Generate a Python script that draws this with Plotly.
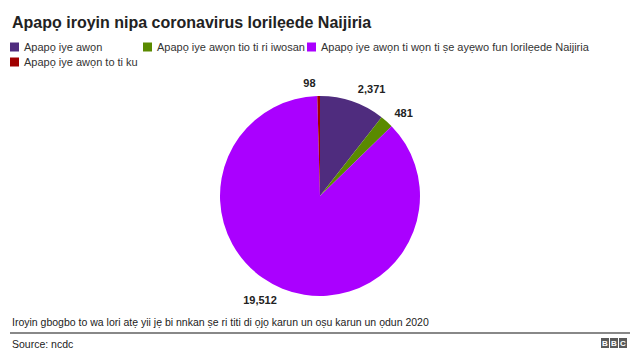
import plotly.graph_objects as go

labels = [
    "Apapọ iye awọn",
    "Apapọ iye awọn tio ti ri iwosan",
    "Apapọ iye awọn ti wọn ti ṣe ayẹwo fun lorilẹede Naijiria",
    "Apapọ iye awọn to ti ku",
]
values = [2371, 481, 19512, 98]
colors = ["#4f2c7e", "#5a8a00", "#aa00ff", "#a00000"]

title = "Apapọ iroyin nipa coronavirus lorilẹede Naijiria"
note = "Iroyin gbogbo to wa lori atẹ yii jẹ bi nnkan ṣe ri titi di ọjọ karun un oṣu karun un ọdun 2020"
source = "Source: ncdc"

# page has an 8px body margin; figure sized to fit the 640x360 window
OFF = 8
W, H = 640 - OFF, 360 - OFF
FONT = "Liberation Sans, Arial, sans-serif"


def px(x):
    return (x - OFF) / W


def py(y):
    return 1 - (y - OFF) / H


# visible pie
fig = go.Figure(go.Pie(
    labels=labels,
    values=values,
    marker=dict(colors=colors, line=dict(width=0)),
    sort=False,
    direction="clockwise",
    rotation=0,
    textinfo="none",
    domain=dict(x=[px(220), px(420)], y=[py(296), py(96)]),
    showlegend=False,
    hoverinfo="label+value",
))

# transparent, slightly larger pie carrying the outside value labels
G = 7
fig.add_trace(go.Pie(
    labels=labels,
    values=values,
    marker=dict(colors=["rgba(0,0,0,0)"] * len(values), line=dict(width=0)),
    sort=False,
    direction="clockwise",
    rotation=0,
    textinfo="value",
    texttemplate="<b>%{value:,}</b>",
    textposition="outside",
    outsidetextfont=dict(size=11, color="#222222", family=FONT),
    domain=dict(x=[px(220 - G), px(420 + G)], y=[py(296 + G), py(96 - G)]),
    showlegend=False,
    hoverinfo="skip",
))

shapes = []
annotations = []

# title
annotations.append(dict(x=px(10), y=py(22), xref="paper", yref="paper",
                        text="<b>" + title + "</b>", showarrow=False,
                        xanchor="left", yanchor="middle",
                        font=dict(size=16, color="#222222", family=FONT)))

# custom legend (layout positions)
leg_pos = [(10, 47), (143, 47), (307, 47), (10, 62)]
for (lx, ly), lab, col in zip(leg_pos, labels, colors):
    shapes.append(dict(type="rect", xref="paper", yref="paper",
                       x0=px(lx), x1=px(lx + 9),
                       y0=py(ly + 4.5), y1=py(ly - 4.5),
                       fillcolor=col, line=dict(width=0)))
    annotations.append(dict(x=px(lx + 12), y=py(ly), xref="paper", yref="paper",
                            text=lab, showarrow=False, xanchor="left", yanchor="middle",
                            font=dict(size=11, color="#333333", family=FONT)))

# footer
annotations.append(dict(x=px(10), y=py(322), xref="paper", yref="paper",
                        text=note, showarrow=False, xanchor="left", yanchor="middle",
                        font=dict(size=10.5, color="#222222", family=FONT)))
shapes.append(dict(type="line", xref="paper", yref="paper",
                   x0=px(10), x1=px(630), y0=py(333), y1=py(333),
                   line=dict(color="#888888", width=2)))
annotations.append(dict(x=px(10), y=py(344), xref="paper", yref="paper",
                        text=source, showarrow=False, xanchor="left", yanchor="middle",
                        font=dict(size=10.5, color="#222222", family=FONT)))

# BBC logo
for i, ch in enumerate("BBC"):
    bx = 601 + i * 9
    shapes.append(dict(type="rect", xref="paper", yref="paper",
                       x0=px(bx), x1=px(bx + 8),
                       y0=py(348), y1=py(338),
                       fillcolor="#5a5a5a", line=dict(width=0)))
    annotations.append(dict(x=px(bx + 4), y=py(343), xref="paper", yref="paper",
                            text="<b>" + ch + "</b>", showarrow=False,
                            xanchor="center", yanchor="middle",
                            font=dict(size=8, color="#ffffff", family=FONT)))

fig.update_layout(
    width=W, height=H,
    margin=dict(l=0, r=0, t=0, b=0),
    paper_bgcolor="white",
    plot_bgcolor="white",
    shapes=shapes,
    annotations=annotations,
    font=dict(family=FONT),
)

fig.write_html("out.html")
